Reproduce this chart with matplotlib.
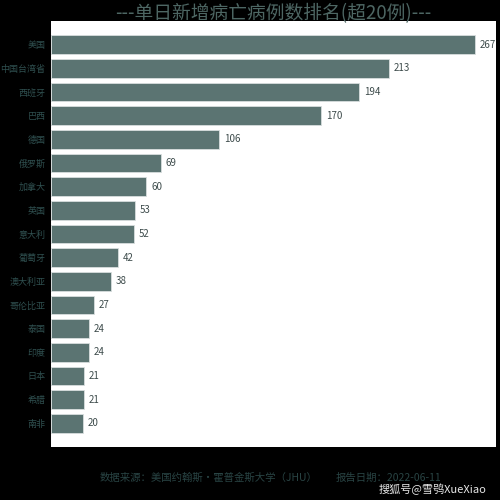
import matplotlib.pyplot as plt
import numpy as np

plt.rcParams['font.family'] = ['Noto Sans CJK SC', 'DejaVu Sans']

countries = ["美国", "中国台湾省", "西班牙", "巴西", "德国", "俄罗斯", "加拿大", "英国",
             "意大利", "葡萄牙", "澳大利亚", "哥伦比亚", "泰国", "印度", "日本", "希腊", "南非"]
deaths = [267, 213, 194, 170, 106, 69, 60, 53, 52, 42, 38, 27, 24, 24, 21, 21, 20]

bar_color = "#5b7472"
text_color = "#2f4f4f"

fig = plt.figure(figsize=(5, 5), dpi=100, facecolor="black")
ax = fig.add_axes([0.102, 0.106, 0.89, 0.852])
ax.set_facecolor("white")

y = np.arange(len(countries))
ax.barh(y, deaths, height=0.8, color=bar_color, edgecolor="#d8dede", linewidth=0.6)
for yi, v in zip(y, deaths):
    ax.text(v + 3, yi, str(v), va="center", ha="left", fontsize=7, color="#3d4b4b")

ax.set_yticks(y)
ax.set_yticklabels(countries, fontsize=6.5, color=text_color)
ax.set_ylim(len(countries), -1)
ax.set_xlim(0, max(deaths) * 1.05)
ax.set_xticks([])
ax.tick_params(axis="y", length=0, pad=4)
for s in ax.spines.values():
    s.set_visible(False)

fig.text(0.547, 0.972, "---单日新增病亡病例数排名(超20例)---", ha="center", va="center",
         fontsize=13.5, color="#4d6663")
fig.text(0.2, 0.045, "数据来源：美国约翰斯·霍普金斯大学（JHU）", ha="left", va="center",
         fontsize=7.5, color="#294444")
fig.text(0.672, 0.045, "报告日期：2022-06-11", ha="left", va="center",
         fontsize=7.5, color="#294444")
fig.text(0.972, 0.022, "搜狐号@雪鸮XueXiao", ha="right", va="center",
         fontsize=8, color="#e8e8e8")

plt.savefig("out.png", facecolor="black")
